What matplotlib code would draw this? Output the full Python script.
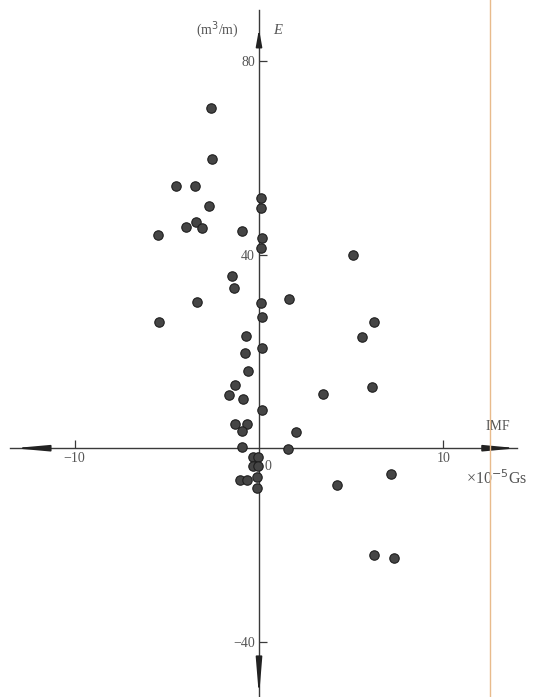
"""E vs IMF scatter, axes crossing at the origin (scanned-figure style)."""
import matplotlib

matplotlib.use("Agg")

import matplotlib.pyplot as plt
from matplotlib.lines import Line2D

# IMF (x 10^-5 Gs) and E values
imf = [
	-2.60, -2.53, -4.52, -3.47, -2.71, -3.41, -3.96, -3.09, -5.49, -0.94,
	0.09, 0.13, 0.18, 0.09, -1.45, -1.34, -3.34, -5.44, 0.09, 0.16,
	-0.72, 0.14, 1.63, -0.76, -0.61, -1.30, -1.63, -0.85, 0.14, -1.30,
	-0.67, -0.94, -0.90,
	5.11, 6.23, 5.58, 6.11, 3.49, 2.01, 1.59, 7.15, 4.24, 6.22, 7.30,
	-0.31, -0.04, -0.31, -0.04, -1.03, -0.67, -0.13, -0.13,
]
e_val = [
	70.2, 59.7, 54.1, 54.1, 50.0, 46.7, 45.7, 45.5, 44.0, 44.8,
	51.7, 49.6, 43.5, 41.3, 35.5, 33.1, 30.2, 26.0, 30.0, 27.1,
	23.2, 20.7, 30.9, 19.6, 15.9, 13.0, 11.0, 10.1, 7.8, 4.9,
	5.1, 3.5, 0.2,
	40.0, 26.0, 23.0, 12.7, 11.3, 3.4, -0.1, -5.3, -7.6, -22.1, -22.7,
	-1.8, -1.8, -3.6, -3.7, -6.6, -6.5, -6.0, -8.3,
]
x_ticks = [-10, 10]
y_ticks = [80, 40, -40]

serif = ["Liberation Serif", "DejaVu Serif"]
ink = "#3a3a3a"
txt_col = "#555555"

fig = plt.figure(figsize=(5.42, 6.97), dpi=100)
ax = fig.add_axes([0, 0, 1, 1])
ax.set_xlim(-14.04, 15.34)
ax.set_ylim(-51.4, 92.6)

for side in ("top", "right"):
	ax.spines[side].set_visible(False)
ax.spines["left"].set_position(("data", 0))
ax.spines["bottom"].set_position(("data", 0))
ax.spines["left"].set_bounds(-51.4, 90.5)
ax.spines["bottom"].set_bounds(-13.5, 14.0)
for side in ("left", "bottom"):
	ax.spines[side].set_color(ink)
	ax.spines[side].set_linewidth(1.0)

ax.set_xticks(x_ticks)
ax.set_yticks(y_ticks)
ax.tick_params(axis="both", direction="in", length=6, width=0.9, color=ink,
	labelsize=10, labelcolor=txt_col, pad=3)
for lab in ax.get_xticklabels() + ax.get_yticklabels():
	lab.set_family(serif)

ax.scatter(imf, e_val, s=46, facecolor="#454545", edgecolor="#1e1e1e",
	linewidths=0.8, zorder=3)

# arrow heads on the axes
def head(tip, base, hl):
	ax.annotate("", xy=tip, xytext=base,
		arrowprops=dict(arrowstyle=f"-|>,head_length={hl},head_width=0.18",
			color="#222222", lw=1.2, shrinkA=0, shrinkB=0))

head((0, 86.6), (0, 83.0), 1.0)
head((0, -51.4), (0, -44.0), 2.2)
head((-13.3, 0), (-11.6, 0), 2.0)
head((14.0, 0), (12.4, 0), 1.9)

ax.text(0.5, -2.4, "0", family=serif, fontsize=10, color=txt_col,
	ha="center", va="top")
ax.text(-2.28, 86.4, "(m$^{3}$/m)", family=serif, fontsize=10,
	color=txt_col, ha="center", va="center")
ax.text(1.0, 86.4, "E", family=serif, style="italic", fontsize=10.5,
	color=txt_col, ha="center", va="center")
ax.text(12.95, 4.4, "IMF", family=serif, fontsize=10, color=txt_col,
	ha="center", va="center")
ax.text(11.2, -6.2, "×10$^{-5}$Gs", family=serif, fontsize=11.5,
	color=txt_col, ha="left", va="center")

# page edge of the scan
fig.add_artist(Line2D([490 / 542, 490 / 542], [0, 1], color="#e8bb8c", lw=1.0))

fig.savefig("out.png", dpi=100)
